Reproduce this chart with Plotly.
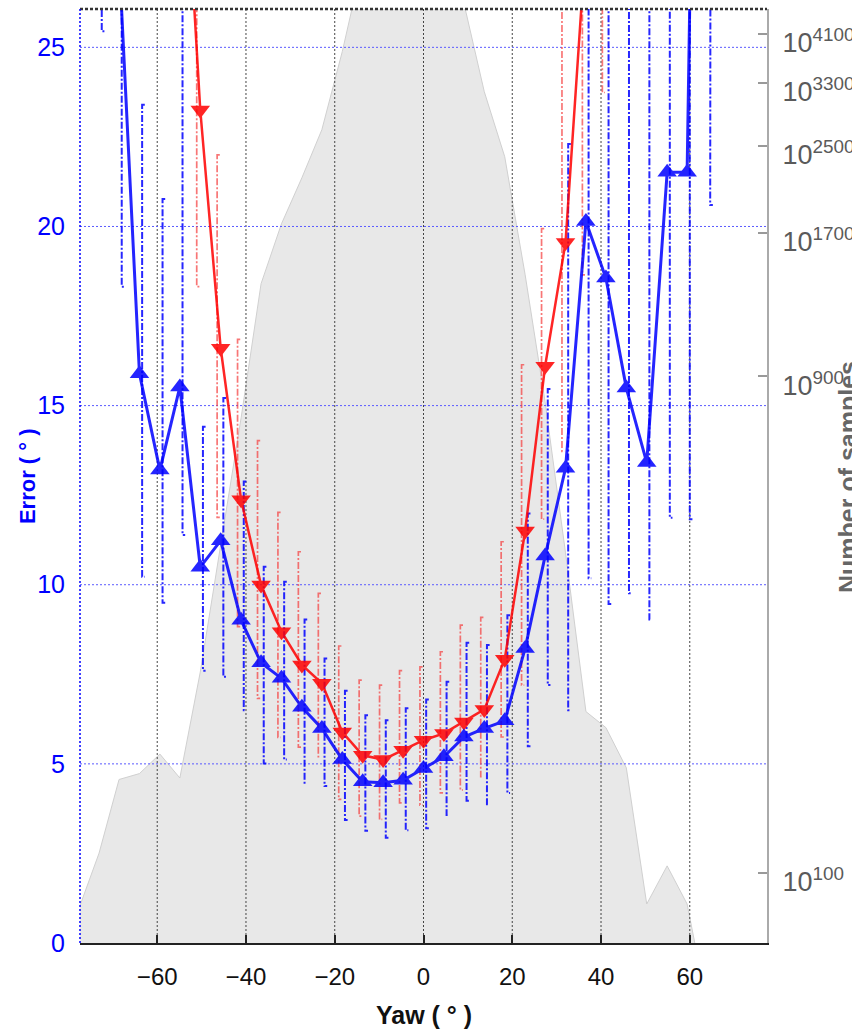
import plotly.graph_objects as go

# ---------------- data ----------------
# yaw bin centres (deg)
yaw = [-77.7, -73.1, -68.6, -64.0, -59.4, -54.9, -50.3, -45.7, -41.1, -36.6,
       -32.0, -27.4, -22.9, -18.3, -13.7, -9.1, -4.6, 0.0, 4.6, 9.1,
       13.7, 18.3, 22.9, 27.4, 32.0, 36.6, 41.1, 45.7, 50.3, 54.9,
       59.4, 64.0]

# number of samples per bin, given as the exponent of 10 (right axis)
samples_exp = [85, 109, 151, 155, 169, 152, 243, 427, 749, 1357,
               1769, 2169, 2684, 3792, 5649, 6800, 7500, 7600, 6500, 4700,
               3175, 2381, 1412, 804, 412, 204, 190, 159, 87, 103,
               87, 55]

# blue series (bins yaw[1:])
blue_yaw = yaw[1:]
blue_err = [40, 27.5, 15.89, 13.2, 15.52, 10.49, 11.23, 9.01, 7.82, 7.39,
            6.58, 5.99, 5.12, 4.50, 4.47, 4.54, 4.87, 5.20, 5.75, 5.99,
            6.20, 8.22, 10.8, 13.25, 20.14, 18.56, 15.49, 13.41, 21.51, 21.51,
            58]
blue_lo = [25.45, 18.32, 10.22, 9.50, 11.39, 7.60, 7.43, 6.50, 5.01, 5.12,
           4.47, 4.38, 3.43, 3.13, 2.94, 3.15, 3.20, 3.57, 3.97, 3.87,
           4.19, 5.49, 7.20, 6.5, 10.18, 9.46, 9.76, 9.03, 11.87, 11.83,
           20.6]
blue_hi = [55, 37, 23.40, 20.77, 28.0, 14.41, 15.21, 12.88, 10.50, 10.08,
           9.03, 7.94, 7.04, 6.36, 6.22, 6.55, 6.80, 7.29, 8.38, 8.32,
           9.15, 11.99, 15.46, 22.30, 30, 28, 27, 28, 31, 31,
           95]

# red series (bins yaw[5:27])
red_yaw = yaw[5:27]
red_err = [33, 23.25, 16.6, 12.37, 9.99, 8.69, 7.76, 7.25, 5.89, 5.24,
           5.12, 5.38, 5.66, 5.85, 6.17, 6.52, 7.92, 11.5, 16.1, 19.55,
           28.0, 36]
red_lo = [28, 18.32, 11.88, 8.83, 6.83, 5.74, 5.47, 5.20, 4.01, 3.54,
          3.45, 3.91, 3.85, 4.19, 4.27, 4.64, 5.75, 7.2, 11.83, 13.72,
          18.65, 23.74]
red_hi = [38, 29, 22.0, 16.85, 14.02, 12.02, 10.92, 9.76, 8.29, 7.34,
          7.20, 7.60, 7.71, 8.13, 8.87, 9.09, 11.20, 16.14, 19.94, 27,
          36, 46]

x_ticks = [-60, -40, -20, 0, 20, 40, 60]
y_ticks = [0, 5, 10, 15, 20, 25]
n_ticks = [100, 900, 1700, 2500, 3300, 4100]
n_text = ["10<sup>%d</sup>" % v for v in n_ticks]

# ---------------- style / geometry ----------------
X_RANGE = [-77.4, 77.4]
ERR_RANGE = [0, 26.07]
N_RANGE = [1.8645, 3.6609]   # log10 of exponent
AREA_BASE = 10
BLUE_DX = 0.6
RED_DX = -0.8
CAP = 0.6
DASHDOT = "7px,2px,2px,2px"
FONT = "Liberation Sans, Arial, Helvetica, sans-serif"


def bracket(xs, lo, hi, dx):
    px, py = [], []
    for x, a, b in zip(xs, lo, hi):
        xb = x + dx
        px += [xb + CAP, xb, xb, xb + CAP, None]
        py += [b, b, a, a, None]
    return px, py


fig = go.Figure()

# gray distribution area (main subplot, log right axis) -> drawn underneath
fig.add_trace(go.Scatter(
    x=yaw + [yaw[-1], yaw[0]],
    y=samples_exp + [AREA_BASE, AREA_BASE],
    yaxis="y", mode="lines", fill="toself",
    fillcolor="#e8e8e8", line=dict(color="#d0d0d0", width=1),
    hoverinfo="skip", showlegend=False))

# grid lines (overlay subplot, above the area)
gx, gy = [], []
for t in x_ticks:
    gx += [t, t, None]
    gy += [ERR_RANGE[0], ERR_RANGE[1], None]
fig.add_trace(go.Scatter(x=gx, y=gy, yaxis="y2", mode="lines",
                         line=dict(color="#444444", width=1, dash="2px,2px"),
                         hoverinfo="skip", showlegend=False))
hx, hy = [], []
for t in y_ticks[1:]:
    hx += [X_RANGE[0], X_RANGE[1], None]
    hy += [t, t, None]
fig.add_trace(go.Scatter(x=hx, y=hy, yaxis="y2", mode="lines",
                         line=dict(color="#5a5aff", width=1, dash="2px,2px"),
                         hoverinfo="skip", showlegend=False))

# error brackets
rx, ry = bracket(red_yaw, red_lo, red_hi, RED_DX)
fig.add_trace(go.Scatter(x=rx, y=ry, yaxis="y2", mode="lines",
                         line=dict(color="rgba(245,60,60,0.7)", width=1.7, dash=DASHDOT),
                         hoverinfo="skip", showlegend=False))
bx, by = bracket(blue_yaw, blue_lo, blue_hi, BLUE_DX)
fig.add_trace(go.Scatter(x=bx, y=by, yaxis="y2", mode="lines",
                         line=dict(color="rgba(0,0,255,0.85)", width=2, dash=DASHDOT),
                         hoverinfo="skip", showlegend=False))

# series
fig.add_trace(go.Scatter(x=red_yaw, y=red_err, yaxis="y2", mode="lines+markers",
                         line=dict(color="#ff0000", width=2.5),
                         marker=dict(symbol="triangle-down", size=17, color="#ff0000"),
                         opacity=0.85, showlegend=False))
fig.add_trace(go.Scatter(x=blue_yaw, y=blue_err, yaxis="y2", mode="lines+markers",
                         line=dict(color="#0000ff", width=3),
                         marker=dict(symbol="triangle-up", size=17, color="#0000ff"),
                         opacity=0.85, showlegend=False))

fig.update_layout(
    width=852, height=1031,
    margin=dict(l=80, r=85, t=9, b=88, autoexpand=False),
    paper_bgcolor="white", plot_bgcolor="white",
    showlegend=False,
    xaxis=dict(range=X_RANGE, tickvals=x_ticks, showgrid=False, zeroline=False,
               automargin=False,
               ticks="inside", ticklen=8, tickwidth=1.5, tickcolor="#222",
               showline=True, linecolor="#222", linewidth=1.5,
               ticklabelstandoff=11,
               tickfont=dict(family=FONT, size=24, color="#111")),
    # right axis: number of samples (log of exponent)
    yaxis=dict(type="log", range=N_RANGE, side="right",
               tickvals=n_ticks, ticktext=n_text, showgrid=False, zeroline=False,
               automargin=False,
               ticks="inside", ticklen=9, tickwidth=1.5, tickcolor="#999",
               showline=True, linecolor="#aaaaaa", linewidth=2,
               ticklabelstandoff=8, ticklabelshift=9,
               tickfont=dict(family=FONT, size=27, color="#5a5a5a")),
    # left axis: error
    yaxis2=dict(range=ERR_RANGE, tickvals=y_ticks, overlaying="y", side="left",
                showgrid=False, zeroline=False, automargin=False,
                showline=False, ticks="", ticklabelstandoff=14,
                tickfont=dict(family=FONT, size=25, color="#0000ff")),
    shapes=[
        dict(type="line", xref="paper", yref="paper", x0=0, x1=1, y0=1, y1=1,
             line=dict(color="#333", width=2.5, dash="3px,2px")),
        dict(type="line", xref="paper", yref="paper", x0=0, x1=0, y0=0, y1=1,
             line=dict(color="#0000ff", width=1.5, dash="2px,2px")),
    ],
    annotations=[
        dict(text="<b>Error ( ° )</b>", xref="paper", yref="paper", x=-0.077, y=0.5,
             textangle=-90, showarrow=False, xanchor="center", yanchor="middle",
             font=dict(family=FONT, size=22, color="#0000ff")),
        dict(text="<b>Yaw ( ° )</b>", xref="paper", yref="paper", x=0.5, y=-0.0775,
             showarrow=False, xanchor="center", yanchor="middle",
             font=dict(family=FONT, size=25, color="#111")),
        dict(text="<b>Number of samples</b>", xref="paper", yref="paper", x=1.118, y=0.499,
             textangle=-90, showarrow=False, xanchor="center", yanchor="middle",
             font=dict(family=FONT, size=25, color="#666")),
    ],
)

fig.write_html("out.html")
